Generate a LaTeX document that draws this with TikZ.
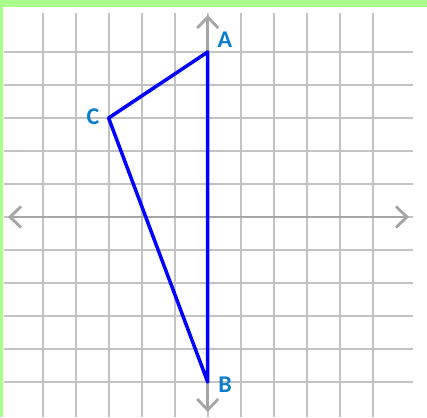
\documentclass[tikz,border=0pt]{standalone}
\usepackage{fontspec}
\setmainfont{Carlito}
\usetikzlibrary{arrows.meta}
\definecolor{framegreen}{RGB}{170,255,140}
\definecolor{gridgray}{RGB}{195,195,195}
\definecolor{axisgray}{RGB}{165,165,165}
\definecolor{labelblue}{RGB}{10,125,205}
\definecolor{triblue}{RGB}{0,0,255}
\tikzset{
  gridline/.style={draw=gridgray, line width=2.2pt},
  axisline/.style={draw=axisgray, line width=2.8pt, {Straight Barb[length=11pt,width=21pt]}-{Straight Barb[length=11pt,width=21pt]}},
  triline/.style={draw=triblue, line width=3.5pt, line join=round},
  ptlabel/.style={text=labelblue, font=\bfseries\fontsize{24}{24}\selectfont, inner sep=0pt}
}
\begin{document}
\begin{tikzpicture}[x=1pt,y=-1pt]
\useasboundingbox (0,0) rectangle (427,417);
\fill[white] (0,0) rectangle (427,417);
\fill[framegreen] (0,0) rectangle (427,7);
\fill[framegreen] (0,0) rectangle (3,417);
% grid
\foreach \k in {-5,...,5} {
  \draw[gridline] ({207.7+33*\k},13) -- ({207.7+33*\k},417);
  \draw[gridline] (4,{217+33*\k}) -- (413,{217+33*\k});
}
% axes
\coordinate (xl) at (8,217);
\coordinate (xr) at (409,217);
\coordinate (yt) at (207.7,15);
\coordinate (yb) at (207.7,412);
\draw[axisline] (xl) -- (xr);
\draw[axisline] (yt) -- (yb);
% triangle
\coordinate (A) at (207.7,52);
\coordinate (C) at (108.6,118);
\coordinate (B) at (207.7,382);
\draw[triline] (A) -- (C) -- (B) -- cycle;
% labels
\node[ptlabel] (la) at (225,40) {A};
\node[ptlabel] (lc) at (93,117) {C};
\node[ptlabel] (lb) at (225,385) {B};
\end{tikzpicture}
\end{document}
